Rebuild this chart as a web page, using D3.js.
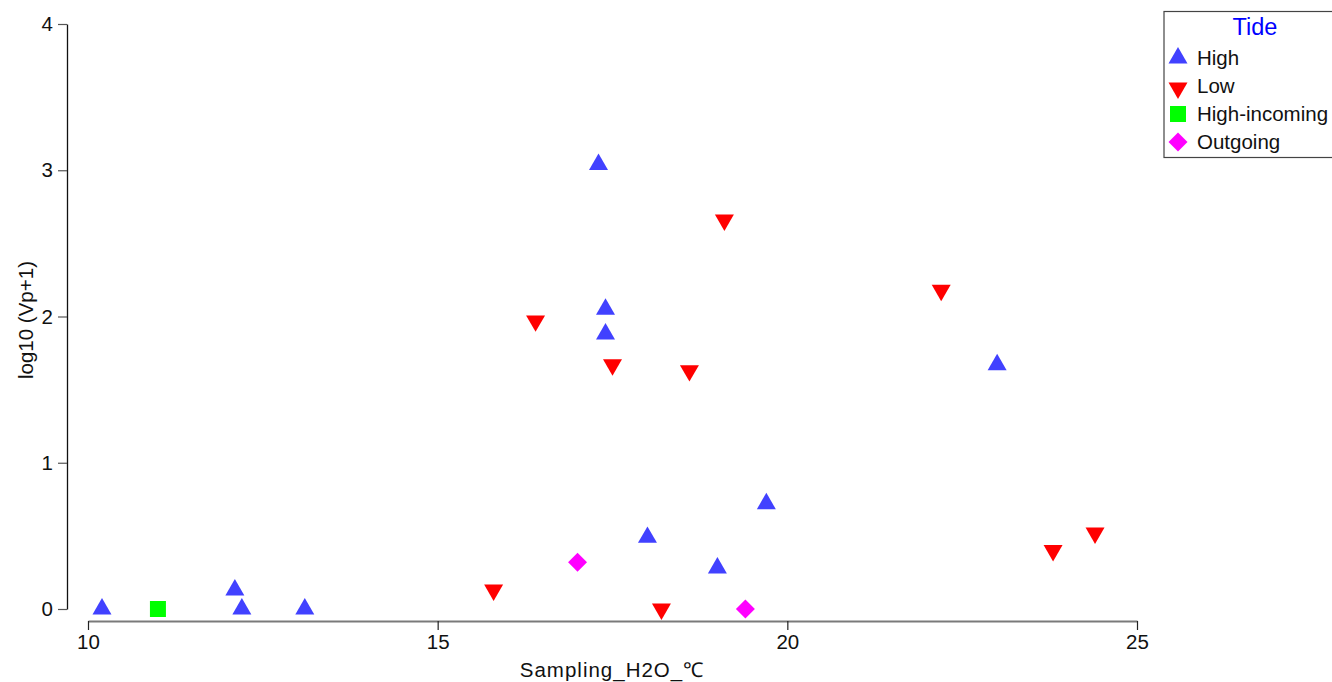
<!DOCTYPE html>
<html>
<head>
<meta charset="utf-8">
<script src="https://cdn.jsdelivr.net/npm/d3@7"></script>
<style>
  html, body { margin: 0; padding: 0; background: #fff; }
  svg { display: block; }
  text { font-family: "Liberation Sans", Arial, sans-serif; }
</style>
</head>
<body>
<svg id="chart" width="1332" height="682"></svg>
<script>
// ---- data ----
const tideLevels = ["High", "Low", "High-incoming", "Outgoing"];
const highTemp = [10.2, 12.1, 12.2, 13.1, 17.3, 17.4, 17.4, 18.0, 19.0, 19.7, 23.0];
const highVp   = [0.0, 0.13, 0.0, 0.0, 3.04, 2.05, 1.88, 0.49, 0.28, 0.72, 1.67];
const lowTemp  = [15.8, 16.4, 17.5, 18.2, 18.6, 19.1, 22.2, 23.8, 24.4];
const lowVp    = [0.13, 1.97, 1.67, 0.0, 1.63, 2.66, 2.18, 0.40, 0.52];
const incomingTemp = [11.0];
const incomingVp   = [0.0];
const outgoingTemp = [17.0, 19.4];
const outgoingVp   = [0.32, 0.0];
const xTicks = [10, 15, 20, 25];
const yTicks = [0, 1, 2, 3, 4];

const series = [
  { name: tideLevels[0], xs: highTemp, ys: highVp },
  { name: tideLevels[1], xs: lowTemp, ys: lowVp },
  { name: tideLevels[2], xs: incomingTemp, ys: incomingVp },
  { name: tideLevels[3], xs: outgoingTemp, ys: outgoingVp }
];

// ---- styling ----
const colors = { "High": "#4141ff", "Low": "#ff0000", "High-incoming": "#00ff00", "Outgoing": "#ff00ff" };
const symbolFor = {
  "High":          { type: d3.symbolTriangle, size: 156, rot: 0 },
  "Low":           { type: d3.symbolTriangle, size: 156, rot: 180 },
  "High-incoming": { type: d3.symbolSquare,   size: 256, rot: 0 },
  "Outgoing":      { type: d3.symbolSquare,   size: 180, rot: 45 }
};
const FONT = "'Liberation Sans', Arial, sans-serif";

const svg = d3.select("#chart");
const x = d3.scaleLinear().domain([10, 25]).range([88, 1137]);
const y = d3.scaleLinear().domain([0, 4]).range([609, 24]);

// y axis
const yAxis = svg.append("g")
  .attr("transform", "translate(67,0)")
  .call(d3.axisLeft(y).tickValues(yTicks).tickSize(9).tickPadding(5).tickSizeOuter(0).tickFormat(d3.format("d")));
yAxis.attr("font-size", null).attr("font-family", null);
yAxis.select(".domain").attr("stroke", "#111").attr("stroke-width", 1.3);
yAxis.selectAll(".tick line").attr("stroke", "#555").attr("stroke-width", 1.2);
yAxis.selectAll(".tick text").style("font-size", "20.5px").attr("fill", "#111").style("font-family", FONT);

// x axis
const xAxis = svg.append("g")
  .attr("transform", "translate(0,621)")
  .call(d3.axisBottom(x).tickValues(xTicks).tickSize(9).tickPadding(4).tickSizeOuter(0).tickFormat(d3.format("d")));
xAxis.attr("font-size", null).attr("font-family", null);
xAxis.select(".domain").attr("stroke", "#7a7a7a").attr("stroke-width", 2);
xAxis.selectAll(".tick line").attr("stroke", "#222").attr("stroke-width", 1.2);
xAxis.selectAll(".tick text").style("font-size", "20.5px").attr("fill", "#111").style("font-family", FONT);

// axis titles
svg.append("text")
  .attr("x", 612).attr("y", 677)
  .attr("text-anchor", "middle")
  .style("font-size", "20.5px")
  .attr("letter-spacing", 1)
  .attr("fill", "#111")
  .text("Sampling_H2O_℃");

svg.append("text")
  .attr("transform", "translate(33,320) rotate(-90)")
  .attr("text-anchor", "middle")
  .style("font-size", "20.5px")
  .attr("fill", "#111")
  .text("log10 (Vp+1)");

// points
series.forEach(s => {
  const sym = symbolFor[s.name];
  const pts = s.xs.map((v, i) => ({ t: v, vp: s.ys[i] }));
  svg.append("g").selectAll("path")
    .data(pts)
    .join("path")
    .attr("d", d3.symbol().type(sym.type).size(sym.size))
    .attr("transform", d => `translate(${x(d.t)},${y(d.vp)}) rotate(${sym.rot})`)
    .attr("fill", colors[s.name]);
});

// legend
const lg = svg.append("g");
lg.append("rect")
  .attr("x", 1164).attr("y", 11.5)
  .attr("width", 170).attr("height", 146)
  .attr("fill", "#fff").attr("stroke", "#444").attr("stroke-width", 1.2);
lg.append("text")
  .attr("x", 1255).attr("y", 35)
  .attr("text-anchor", "middle")
  .style("font-size", "23.5px")
  .attr("fill", "#0000ff")
  .text("Tide");
tideLevels.forEach((name, i) => {
  const cy = 58 + i * 28;
  const sym = symbolFor[name];
  lg.append("path")
    .attr("d", d3.symbol().type(sym.type).size(sym.size))
    .attr("transform", `translate(1178,${cy + (name === "Low" ? 2 : 0)}) rotate(${sym.rot})`)
    .attr("fill", colors[name]);
  lg.append("text")
    .attr("x", 1197).attr("y", cy + 7)
    .style("font-size", "20.5px")
    .attr("fill", "#111")
    .text(name);
});
</script>
</body>
</html>
